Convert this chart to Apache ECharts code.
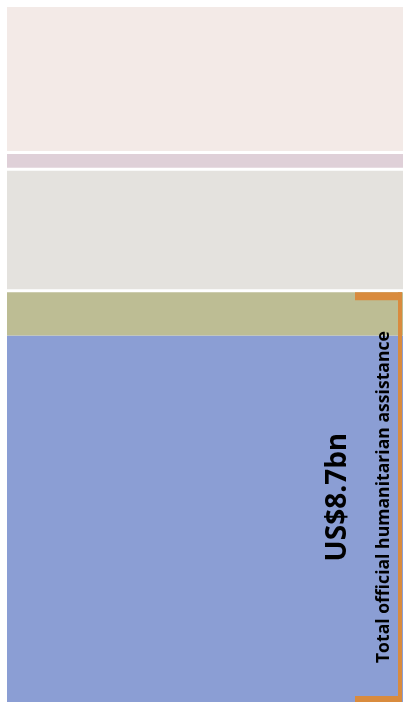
<!DOCTYPE html>
<html>
<head>
<meta charset="utf-8">
<script src="https://cdn.jsdelivr.net/npm/echarts@6/dist/echarts.min.js"></script>
<style>
html,body{margin:0;padding:0;background:#fff;}
#chart{width:403px;height:702px;}
</style>
</head>
<body>
<div id="chart"></div>
<script>
// Data (US$ bn), stacked bottom to top
const categories = ['Total'];
const segmentNames = ['Segment 1', 'Segment 2', 'Segment 3', 'Segment 4', 'Segment 5'];
const segment1 = [7.75];
const segment2 = [0.95];
const segment3 = [2.57];
const segment4 = [0.35];
const segment5 = [3.08];
const segmentColors = ['#8b9ed4', '#bdbd94', '#e4e2de', '#dfd0d8', '#f3eae7'];
const bracketFrom = [0];
const bracketTo = [8.7];
const bracketValueLabel = 'US$8.7bn';
const bracketLabel = 'Total official humanitarian assistance';

const segs = [segment1, segment2, segment3, segment4, segment5];
const total = segs.reduce((s, a) => s + a[0], 0);

// separators between segments (white gaps) above segment 2
const separatorData = [];
let cum = 0;
segs.forEach((a, i) => {
  cum += a[0];
  if (i >= 1 && i < segs.length - 1) separatorData.push([0, cum]);
});

const barSeries = segs.map((d, i) => ({
  name: segmentNames[i],
  type: 'bar',
  stack: 'total',
  data: d,
  barWidth: '100%',
  silent: true,
  itemStyle: {color: segmentColors[i]}
}));

const chart = echarts.init(document.getElementById('chart'), null, {renderer: 'canvas'});
chart.setOption({
  animation: false,
  backgroundColor: '#ffffff',
  grid: {left: 7, right: 0, top: 7, bottom: 0, containLabel: false},
  xAxis: {type: 'category', data: categories, show: false},
  yAxis: {type: 'value', min: 0, max: total, show: false},
  series: barSeries.concat([{
    type: 'custom',
    silent: true,
    z: 5,
    clip: false,
    data: separatorData,
    renderItem: function (params, api) {
      const p = api.coord([api.value(0), api.value(1)]);
      const bw = api.size([1, 0])[0];
      return {type: 'rect', shape: {x: p[0] - bw / 2, y: p[1] - 1.5, width: bw, height: 3}, style: {fill: '#ffffff'}};
    }
  }, {
    type: 'custom',
    silent: true,
    z: 10,
    clip: false,
    data: [[0, bracketFrom[0], bracketTo[0]]],
    renderItem: function (params, api) {
      const p0 = api.coord([api.value(0), api.value(1)]);
      const p1 = api.coord([api.value(0), api.value(2)]);
      const bw = api.size([1, 0])[0];
      const right = p0[0] + bw / 2 - 3;
      const yTop = p1[1] + 1.5;
      const yBot = p0[1];
      const midY = (yTop + yBot) / 2;
      const col = '#d98b3e';
      return {
        type: 'group',
        children: [
          {type: 'rect', shape: {x: right - 45, y: yTop, width: 47, height: 8}, style: {fill: col}},
          {type: 'rect', shape: {x: right - 2, y: yTop, width: 4, height: yBot - yTop}, style: {fill: col}},
          {type: 'rect', shape: {x: right - 45, y: yBot - 6, width: 47, height: 6}, style: {fill: col}},
          {type: 'text', x: right - 62, y: midY, rotation: Math.PI / 2,
            style: {text: bracketValueLabel, fill: '#000', font: 'bold 28px "Open Sans"', align: 'center', verticalAlign: 'middle'}},
          {type: 'text', x: right - 16.5, y: midY, rotation: Math.PI / 2,
            style: {text: bracketLabel, fill: '#000', font: 'bold 17.6px "Open Sans"', align: 'center', verticalAlign: 'middle'}}
        ]
      };
    }
  }])
});
</script>
</body>
</html>
